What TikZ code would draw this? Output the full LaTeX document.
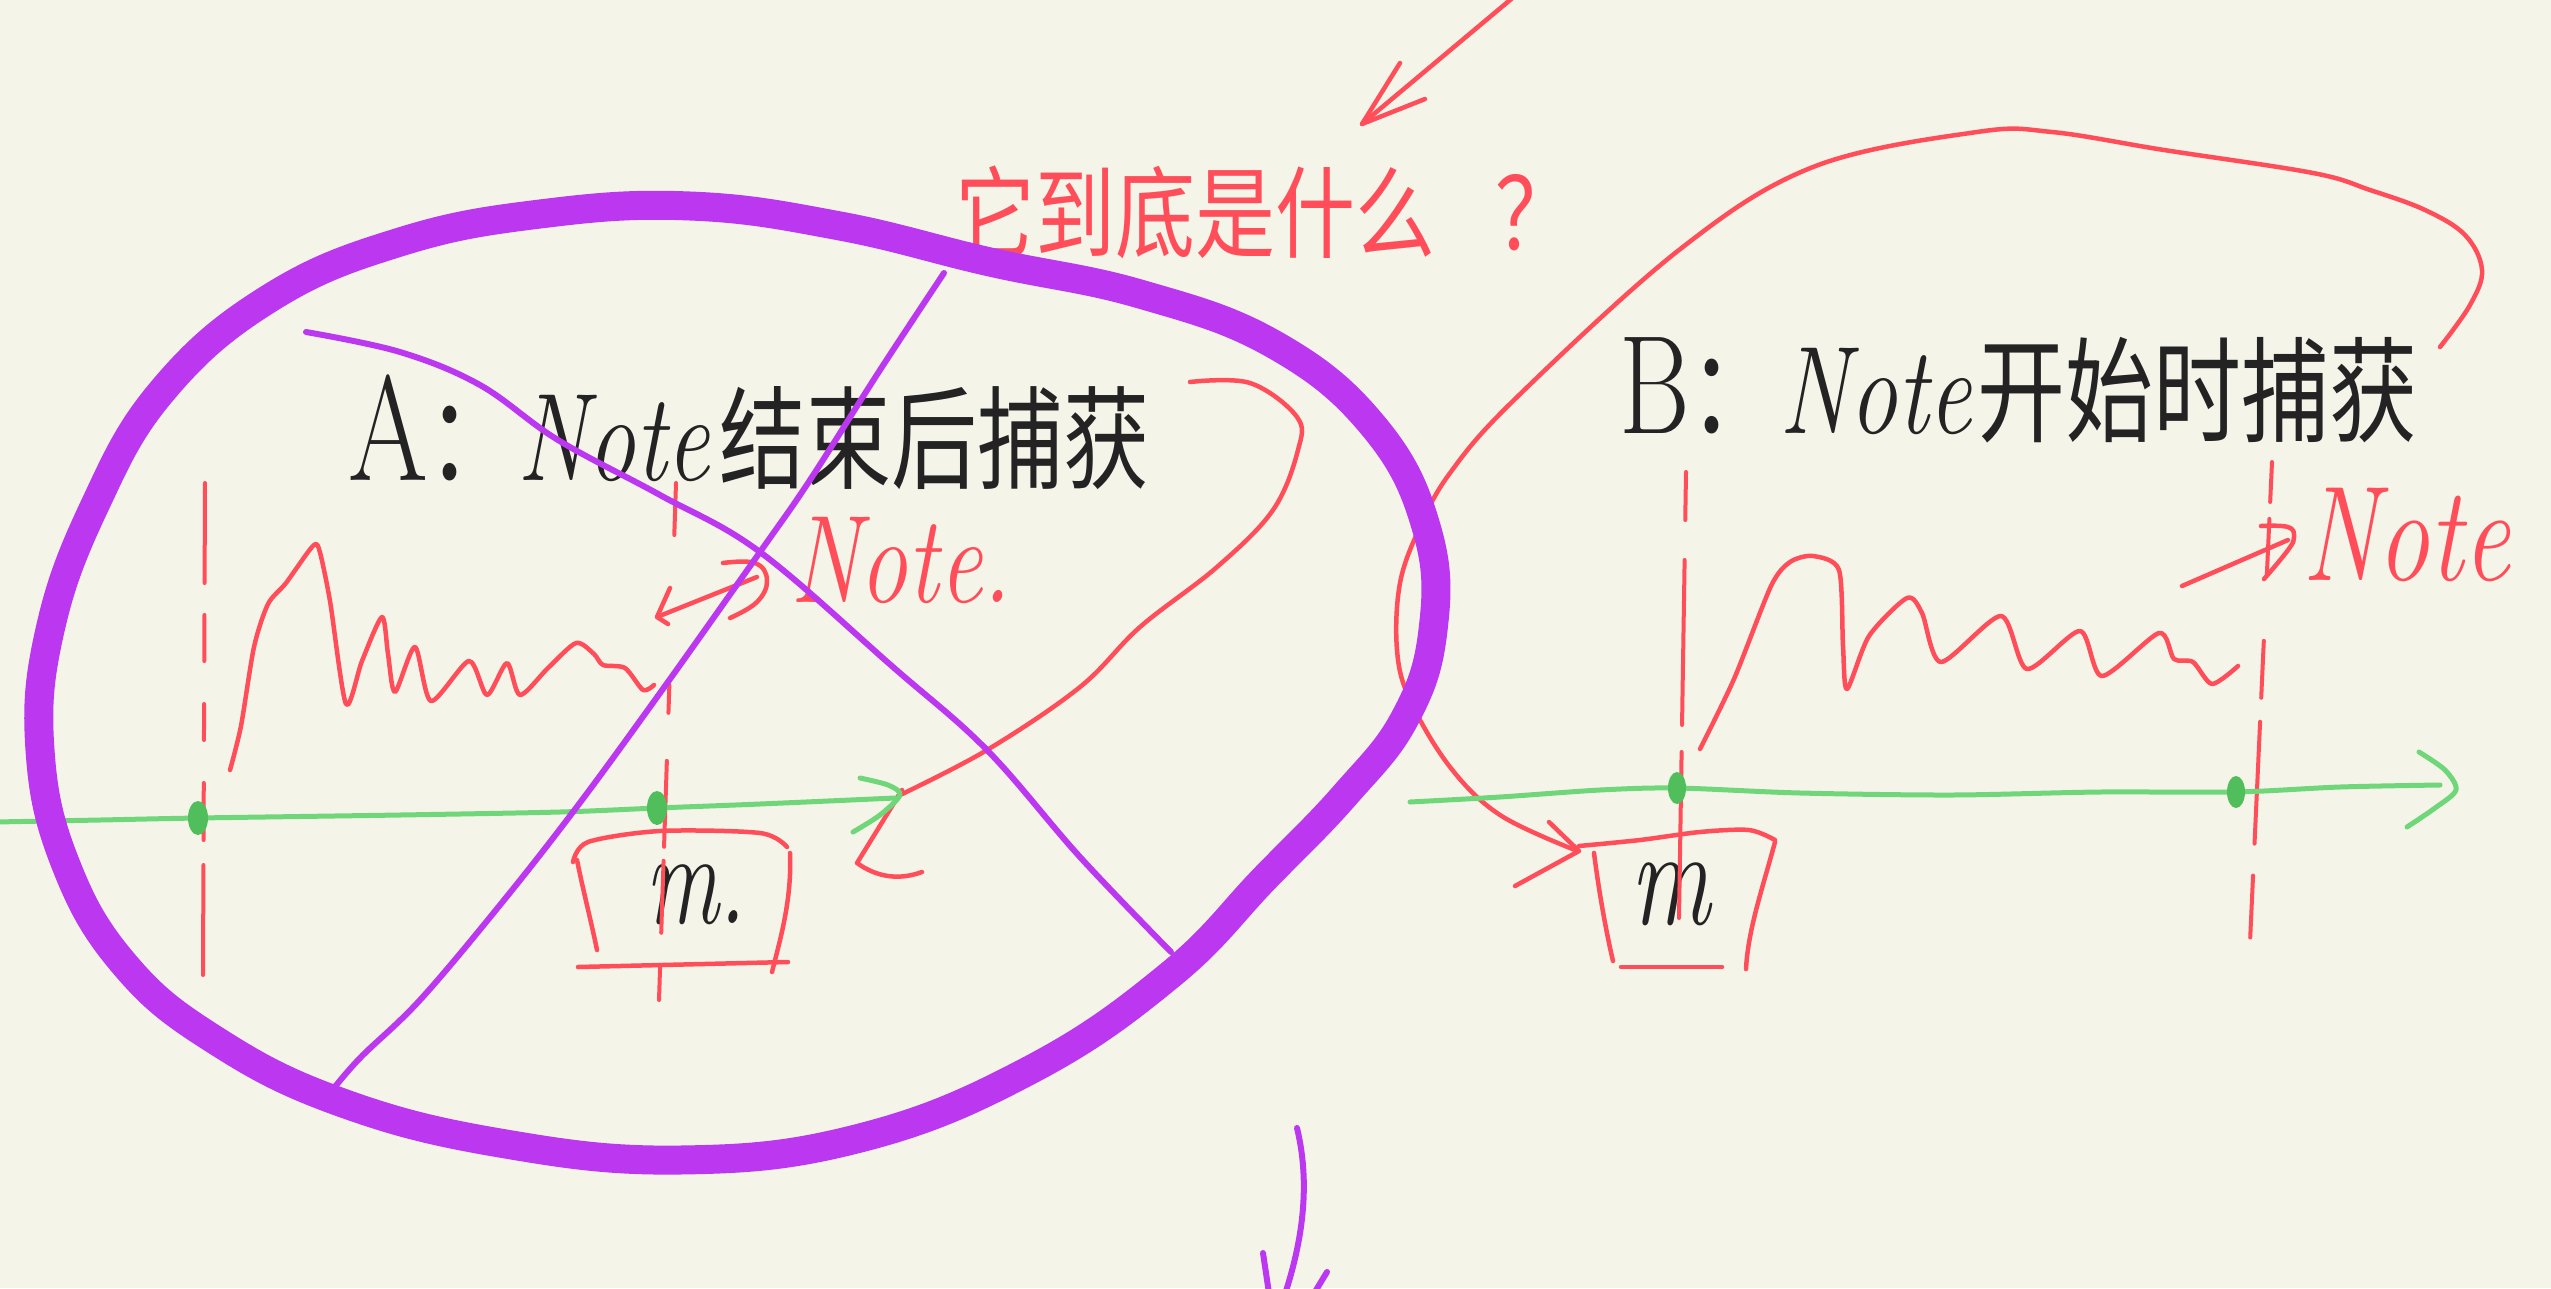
\documentclass[tikz,border=0pt]{standalone}
\usepackage{graphicx}
\usepackage{fontspec}
\newfontfamily\cjk{Noto Sans CJK SC}
\usetikzlibrary{arrows.meta}
\definecolor{paper}{RGB}{245,244,233}
\definecolor{pen}{RGB}{255,78,90}
\definecolor{vio}{RGB}{188,56,240}
\definecolor{grn}{RGB}{112,214,122}
\definecolor{grndot}{RGB}{80,190,90}
\definecolor{ink}{RGB}{35,35,35}
\newcommand\handtall[2][1.3]{\scalebox{1}[#1]{#2}}
\begin{document}
\begin{tikzpicture}[x=1pt, y=-1pt, line cap=round, line join=round,
  redstroke/.style={draw=pen, line width=4.5pt},
  thinvio/.style={draw=vio, line width=6pt},
  ring/.style={draw=vio, line width=29pt},
  axisline/.style={draw=grn, line width=5pt},
  markdash/.style={draw=pen, line width=4pt},
  inktext/.style={text=ink, inner sep=0pt, outer sep=0pt, anchor=west, font=\fontsize{90}{100}\selectfont},
  redtext/.style={text=pen, inner sep=0pt, outer sep=0pt, anchor=west},
  dotmark/.style={fill=grndot}
]
\useasboundingbox (0,0) rectangle (2551,1288);
\clip (0,0) rectangle (2551,1288);
\fill[paper] (0,0) rectangle (2551,1288);

% ---------- texts ----------
\node[redtext, font=\cjk\fontsize{80}{90}\selectfont] (question) at (955,212) {\handtall[1.25]{它到底是什么\hspace{60pt}？}};
\node[inktext] (titleA) at (348,432) {\handtall{{\fontsize{115}{115}\selectfont A}{\cjk ：}{\fontsize{96}{100}\selectfont\itshape Note}\hspace{10pt}{\cjk\fontsize{86}{90}\selectfont 结束后捕获}}};
\node[inktext] (titleB) at (1619,390) {\handtall{{\fontsize{108}{110}\selectfont B}{\cjk ：}{\fontsize{96}{100}\selectfont\itshape Note}\hspace{6pt}{\cjk\fontsize{88}{90}\selectfont 开始时捕获}}};
\node[redtext, font=\fontsize{96}{100}\selectfont\itshape] (noteA) at (790,560) {\handtall{Note.}};
\node[redtext, font=\fontsize{104}{110}\selectfont\itshape] (noteB) at (2302,535) {\handtall{Note}};
\node[inktext, font=\fontsize{92}{100}\selectfont\itshape] (mA) at (645,895) {\handtall[1.45]{m.}};
\node[inktext, font=\fontsize{100}{110}\selectfont\itshape] (mB) at (1630,894) {\handtall[1.4]{m}};

% ---------- top arrow ----------
\coordinate (qfrom) at (1522,-10);
\coordinate (qtip) at (1362,124);
\draw[redstroke] (qfrom) -- (qtip);
\draw[redstroke] (1400,63) -- (qtip) -- (1425,99);

% ---------- dashed marks ----------
\draw[markdash, dash pattern=on 100pt off 32pt on 46pt off 43pt on 36pt off 43pt on 57pt off 25pt on 120pt] (205,483) -- (203,975);
\draw[markdash, dash pattern=on 52pt off 150pt on 28pt off 48pt on 86pt off 14pt on 72pt off 32pt on 40pt] (676,483) -- (659,1000);
\draw[markdash, dash pattern=on 48pt off 40pt on 165pt off 27pt on 170pt] (1686,472) -- (1679,918);
\draw[markdash, dash pattern=on 40pt off 17pt on 57pt off 65pt on 57pt off 24pt on 122pt off 32pt on 62pt] (2272,462) -- (2250,942);

% ---------- waveforms ----------
\draw[redstroke] plot[smooth, tension=0.45] coordinates {(230,770) (241,726) (254,647) (268,604) (286,583) (312,547) (319,549) (330,601) (346,704) (362,661) (382,617) (388,654) (395,692) (415,647) (431,701) (469,661) (487,695) (507,663) (520,695) (548,668) (576,643) (594,654) (603,665) (625,668) (643,690) (654,685)};
\draw[redstroke] plot[smooth, tension=0.45] coordinates {(1700,749) (1734,679) (1771,586) (1790,562) (1813,556) (1839,570) (1843,646) (1847,689) (1869,636) (1907,598) (1922,613) (1941,662) (2001,616) (2027,669) (2080,631) (2102,676) (2159,633) (2174,659) (2193,662) (2212,684) (2238,666)};

% ---------- small arrows ----------
\coordinate (dA1) at (657,617);
\coordinate (dA2) at (757,577);
\draw[redstroke] (dA1) -- (dA2);
\draw[redstroke] (670,588) -- (dA1) -- (668,624);
\draw[redstroke] plot[smooth, tension=0.7] coordinates {(723,563) (755,563) (767,580) (757,602) (730,618)};

\coordinate (dB1) at (2182,586);
\coordinate (dB2) at (2288,540);
\draw[redstroke] (dB1) -- (dB2);
\draw[redstroke] plot[smooth, tension=0.7] coordinates {(2261,526) (2288,527) (2294,537) (2288,550) (2264,579)};

% ---------- big curve A ----------
\draw[redstroke] plot[smooth, tension=0.6] coordinates {(1190,382) (1250,383) (1297,417) (1298,450) (1273,510) (1217,567) (1140,627) (1080,687) (987,750) (898,796)};
\draw[redstroke] (902,790) -- (857,863) .. controls (878,878) and (900,880) .. (922,872);

% ---------- boxes ----------
\draw[redstroke] plot[smooth] coordinates {(573,862) (588,842) (660,831) (760,833) (787,847)};
\draw[redstroke] (577,860) .. controls (583,890) and (592,925) .. (597,950);
\draw[redstroke] (790,853) .. controls (792,900) and (780,940) .. (772,972);
\draw[redstroke] (578,967) -- (788,962);

\draw[redstroke] plot[smooth] coordinates {(1579,846) (1640,840) (1700,832) (1749,830) (1775,840)};
\draw[redstroke] (1594,853) .. controls (1600,900) and (1608,940) .. (1613,961);
\draw[redstroke] (1775,842) .. controls (1762,890) and (1748,930) .. (1746,969);
\draw[redstroke] (1621,967) -- (1722,967);

% ---------- big arc B ----------
\draw[redstroke] plot[smooth, tension=0.6] coordinates {(2440,347) (2470,305) (2482,270) (2465,235) (2425,210) (2370,190) (2313,173) (2164,150) (2052,132) (1977,132) (1813,167) (1679,250) (1514,400) (1450,473) (1420,527) (1400,583) (1397,650) (1410,700) (1450,767) (1500,815) (1575,850)};
\draw[redstroke] (1549,822) -- (1579,851) -- (1515,886);

% ---------- green axes ----------
\draw[axisline] plot[smooth] coordinates {(-5,822) (100,820) (198,818) (400,815) (560,812) (657,808) (760,804) (895,798)};
\draw[axisline] plot[smooth] coordinates {(860,778) (888,785) (900,795) (880,815) (853,832)};
\draw[axisline] plot[smooth] coordinates {(1410,802) (1500,797) (1600,790) (1677,788) (1800,793) (1952,795) (2100,792) (2236,792) (2340,787) (2440,785)};
\draw[axisline] plot[smooth] coordinates {(2419,752) (2445,770) (2456,790) (2435,808) (2407,827)};
\fill[dotmark] (198,818) ellipse [x radius=10pt, y radius=17pt];
\fill[dotmark] (657,808) ellipse [x radius=10pt, y radius=17pt];
\fill[dotmark] (1677,788) ellipse [x radius=9pt, y radius=16pt];
\fill[dotmark] (2236,792) ellipse [x radius=9pt, y radius=16pt];

% ---------- purple ----------
\draw[thinvio] plot[smooth, tension=0.6] coordinates {(306,332) (400,352) (480,385) (558,440) (660,495) (760,552) (893,667) (987,750) (1080,857) (1171,952)};
\draw[thinvio] plot[smooth, tension=0.6] coordinates {(944,273) (880,370) (810,480) (760,552) (660,693) (576,808) (500,905) (420,1000) (360,1058) (330,1093)};
\draw[ring] plot[smooth cycle, tension=0.7] coordinates {(163,390) (270,298) (400,242) (540,214) (690,206) (840,226) (990,262) (1140,294) (1275,345) (1375,428) (1427,530) (1433,630) (1405,718) (1345,795) (1265,878) (1170,975) (1030,1070) (860,1138) (680,1160) (500,1143) (340,1102) (215,1040) (125,965) (66,865) (40,750) (50,630) (95,505)};

\coordinate (pfrom) at (1297,1128);
\coordinate (pto) at (1283,1300);
\draw[thinvio] (pfrom) .. controls (1312,1190) and (1300,1250) .. (pto);
\draw[thinvio] (1263,1253) -- (1270,1300);
\draw[thinvio] (1327,1272) -- (1310,1300);
\end{tikzpicture}
\end{document}
